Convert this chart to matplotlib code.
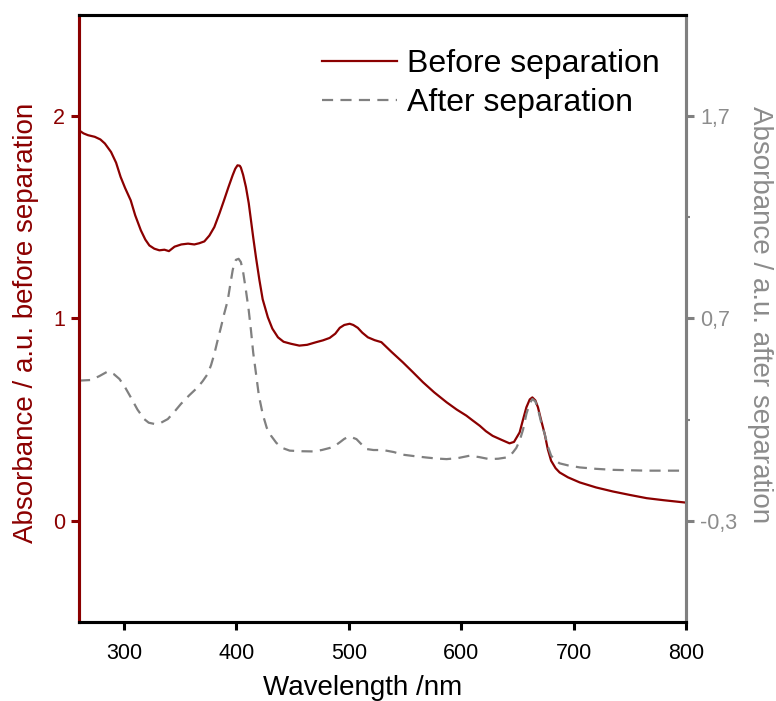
import matplotlib
matplotlib.use('Agg')
import matplotlib.pyplot as plt
from matplotlib.ticker import FixedLocator, FixedFormatter

plt.rcParams['font.family'] = ['Liberation Sans', 'DejaVu Sans']

# before separation (left axis)
wl_before = [260, 264, 268, 274, 279, 283, 288.5, 293, 297, 301, 306, 310, 315, 319, 322.6,
             327, 331.5, 336, 340, 345, 351, 357, 362.6, 367, 371.5, 376, 380.4, 385, 389,
             393, 396.7, 399, 401, 403, 404, 406, 408.5, 411, 413, 415, 417.5, 420.5, 423.4,
             428, 432, 437, 442, 448.6, 456, 463, 471, 477, 483, 488, 492, 496, 500.8, 504,
             508, 512, 517, 523, 529, 538, 548, 557, 566, 576, 587, 596, 604.6, 610, 616.5,
             622, 628, 636, 643, 647, 652, 655, 658, 661, 663.3, 666, 668.3, 671, 674.3,
             677, 680, 684, 687.6, 695, 705.4, 720, 735, 750, 765, 780, 800]
abs_before = [1.93, 1.915, 1.906, 1.898, 1.885, 1.865, 1.823, 1.77, 1.70, 1.645, 1.584,
              1.51, 1.436, 1.39, 1.361, 1.345, 1.337, 1.34, 1.333, 1.355, 1.366, 1.37, 1.366,
              1.372, 1.381, 1.41, 1.452, 1.52, 1.584, 1.65, 1.708, 1.74, 1.757, 1.755, 1.746,
              1.71, 1.65, 1.57, 1.485, 1.40, 1.30, 1.19, 1.095, 1.006, 0.95, 0.907, 0.885,
              0.875, 0.866, 0.87, 0.883, 0.892, 0.904, 0.925, 0.954, 0.968, 0.974, 0.968,
              0.954, 0.93, 0.907, 0.893, 0.883, 0.835, 0.784, 0.735, 0.685, 0.635, 0.586,
              0.55, 0.52, 0.497, 0.47, 0.443, 0.42, 0.4, 0.383, 0.39, 0.437, 0.5, 0.561,
              0.6, 0.61, 0.595, 0.561, 0.5, 0.429, 0.355, 0.297, 0.26, 0.239, 0.215, 0.19,
              0.165, 0.145, 0.128, 0.112, 0.102, 0.09]

# after separation (right axis)
wl_after = [260, 270.6, 278, 285.5, 291, 296, 301, 306, 312, 318, 322, 327, 333, 339, 345,
            350.7, 358, 365.6, 370, 374.5, 377.5, 380.4, 383, 386.3, 389, 392.3, 394.5,
            396.7, 398, 399.6, 402, 404, 406, 408.5, 411, 413, 415, 417.5, 420, 423.4,
            427, 430.8, 435.6, 441, 447.4, 458, 468, 476, 483, 488, 492, 496, 500, 503,
            506.8, 511, 515.6, 522, 530.4, 540, 548, 558, 569, 578, 587, 597, 607.6, 616,
            625, 633, 640, 643, 646, 649, 652, 655, 658, 661, 663.3, 666, 668.3, 671,
            674.3, 677, 680, 684, 687.6, 695, 705.4, 720, 735, 765, 800]
abs_after = [0.393, 0.396, 0.415, 0.438, 0.425, 0.401, 0.36, 0.311, 0.25, 0.203, 0.185,
             0.179, 0.185, 0.203, 0.24, 0.278, 0.32, 0.36, 0.39, 0.426, 0.47, 0.525, 0.585,
             0.657, 0.72, 0.789, 0.865, 0.938, 0.97, 0.99, 0.995, 0.979, 0.93, 0.839, 0.74,
             0.641, 0.53, 0.426, 0.32, 0.228, 0.16, 0.121, 0.085, 0.06, 0.047, 0.044, 0.043,
             0.05, 0.06, 0.072, 0.088, 0.105, 0.116, 0.112, 0.104, 0.08, 0.055, 0.05, 0.05,
             0.04, 0.027, 0.02, 0.013, 0.008, 0.005, 0.01, 0.022, 0.015, 0.005, 0.007, 0.013,
             0.02, 0.038, 0.06, 0.096, 0.15, 0.228, 0.28, 0.302, 0.29, 0.253, 0.19, 0.129,
             0.07, 0.022, -0.002, -0.016, -0.026, -0.036, -0.043, -0.048, -0.052, -0.052]

xticks = [300, 400, 500, 600, 700, 800]
left_ticks = [0, 1, 2]
right_ticks = [-0.3, 0.7, 1.7]
right_ticklabels = ['-0,3', '0,7', '1,7']
right_minor = [0.2, 1.2]

red = '#8b0000'
gray = '#808080'
gray_txt = '#8c8c8c'

fig = plt.figure(figsize=(7.76, 7.01), dpi=100)
ax = fig.add_axes([79 / 776, 1 - 622 / 701, 607 / 776, 607 / 701])
ax2 = ax.twinx()

l1, = ax.plot(wl_before, abs_before, color=red, lw=1.6, label='Before separation')
l2, = ax2.plot(wl_after, abs_after, color=gray, lw=1.6, ls=(0, (5, 3.3)),
               label='After separation')

ax.set_xlim(260, 800)
ax.set_ylim(-0.5, 2.5)
ax2.set_ylim(-0.8, 2.2)

ax.set_xticks(xticks)
ax.set_yticks(left_ticks)
ax.set_yticklabels([str(t) for t in left_ticks])
ax2.yaxis.set_major_locator(FixedLocator(right_ticks))
ax2.yaxis.set_major_formatter(FixedFormatter(right_ticklabels))
ax2.yaxis.set_minor_locator(FixedLocator(right_minor))

for a in (ax, ax2):
    for s in a.spines.values():
        s.set_linewidth(2.2)
    a.spines['top'].set_color('black')
    a.spines['bottom'].set_color('black')
ax.spines['left'].set_color(red)
ax2.spines['left'].set_color(red)
ax.spines['right'].set_color(gray)
ax2.spines['right'].set_color(gray)

ax.tick_params(axis='x', direction='out', length=6, width=2.2, labelsize=15.5, pad=9,
               colors='black')
ax.tick_params(axis='y', direction='out', length=6, width=2.2, labelsize=15.5, pad=4,
               colors=red)
ax2.tick_params(axis='y', which='major', direction='out', length=6, width=2.2,
                labelsize=15.5, pad=4, colors=gray, labelcolor=gray_txt)
ax2.tick_params(axis='y', which='minor', direction='out', length=3, width=1.5,
                colors=gray)

ax.set_xlabel('Wavelength /nm', fontsize=20)
ax.xaxis.set_label_coords(0.468, -0.087)
ax.set_ylabel('Absorbance / a.u. before separation', fontsize=20, color=red)
ax.yaxis.set_label_coords(-0.088, 0.493)
ax.yaxis.label.set_va('center')
ax2.set_ylabel('Absorbance / a.u. after separation', fontsize=20, color=gray_txt,
               rotation=-90)
ax2.yaxis.set_label_coords(1.122, 0.506)
ax2.yaxis.label.set_va('center')

ax2.legend([l1, l2], ['Before separation', 'After separation'], loc='upper left',
           bbox_to_anchor=(322 / 776, 1 - 49 / 701), bbox_transform=fig.transFigure,
           frameon=False, fontsize=23, handlelength=2.35, handletextpad=0.3,
           borderpad=0, borderaxespad=0, labelspacing=0.28)

fig.savefig('out.png', dpi=100)
